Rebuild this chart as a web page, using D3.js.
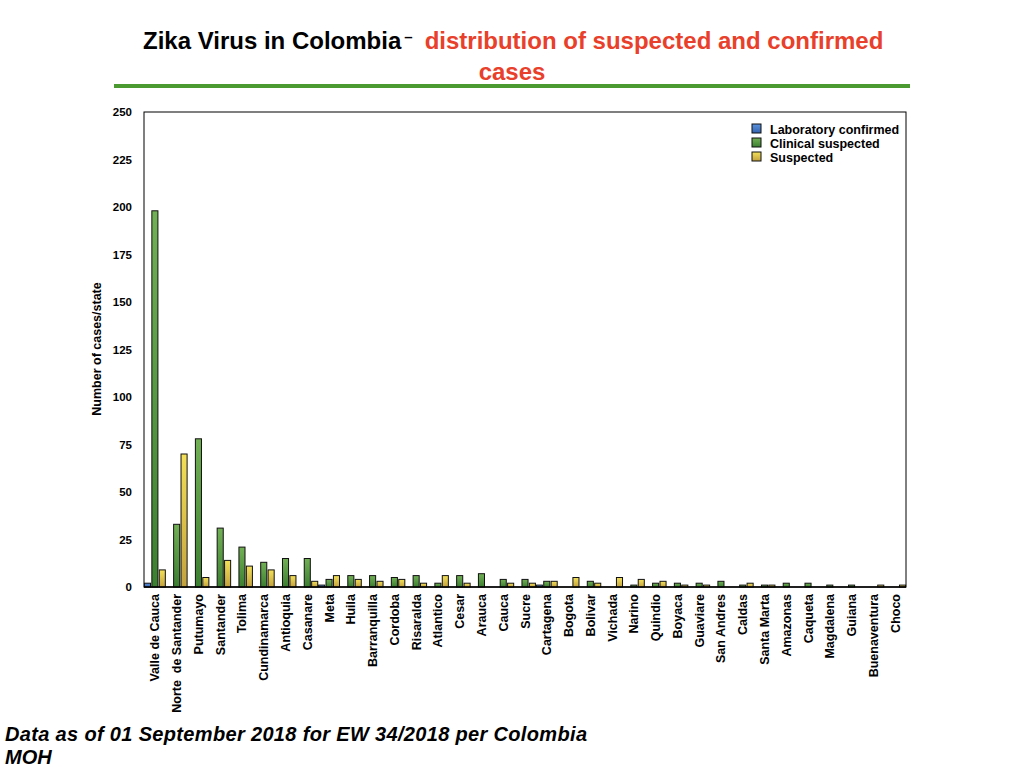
<!DOCTYPE html>
<html>
<head>
<meta charset="utf-8">
<script src="https://cdn.jsdelivr.net/npm/d3@7"></script>
<style>
  body { margin: 0; background: #fff; }
  text { font-family: "Liberation Sans", Arial, sans-serif; }
</style>
</head>
<body>
<svg width="1024" height="768"></svg>
<script>
// states along the x axis
const categories = ['Valle de Cauca', 'Norte  de Santander', 'Putumayo', 'Santander', 'Tolima',
  'Cundinamarca', 'Antioquia', 'Casanare', 'Meta', 'Huila', 'Barranquilla', 'Cordoba',
  'Risaralda', 'Atlantico', 'Cesar', 'Arauca', 'Cauca', 'Sucre', 'Cartagena', 'Bogota',
  'Bolivar', 'Vichada', 'Narino', 'Quindio', 'Boyaca', 'Guaviare', 'San Andres', 'Caldas',
  'Santa Marta', 'Amazonas', 'Caqueta', 'Magdalena', 'Guiana', 'Buenaventura', 'Choco'];

// series values
const labConfirmed = [2,0,0,0,0,0,0,0,1,0,0,0,0,0,0,0,0,0,1,0,0,0,0,0,0,0,0,0,0,0,0,0,0,0,0];
const clinical     = [198,33,78,31,21,13,15,15,4,6,6,5,6,2,6,7,4,4,3,0,3,0,1,2,2,2,3,1,1,2,2,1,1,0,0];
const suspected    = [9,70,5,14,11,9,6,3,6,4,3,4,2,6,2,0,2,2,3,5,2,5,4,3,1,1,0,2,1,0,0,0,0,1,1];

const seriesNames = ['Laboratory confirmed', 'Clinical suspected', 'Suspected'];
const yTicks = [0, 25, 50, 75, 100, 125, 150, 175, 200, 225, 250];

const svg = d3.select('svg');

// gradients for the bars (light top, darker bottom)
const grads = [
  {id: 'gBlue',   top: '#5b93e0', bottom: '#3563b0'},
  {id: 'gGreen',  top: '#72b055', bottom: '#3b7f30'},
  {id: 'gYellow', top: '#f3e058', bottom: '#c3a23e'}
];
const defs = svg.append('defs');
grads.forEach(g => {
  const lg = defs.append('linearGradient').attr('id', g.id)
    .attr('x1', 0).attr('y1', 0).attr('x2', 0).attr('y2', 1);
  lg.append('stop').attr('offset', '0%').attr('stop-color', g.top);
  lg.append('stop').attr('offset', '100%').attr('stop-color', g.bottom);
});

const plotL = 144, plotR = 906, plotT = 112, plotB = 587;

const x = d3.scaleBand().domain(categories).range([plotL, plotR]).paddingInner(0).paddingOuter(0);
const xs = d3.scaleBand().domain(seriesNames).range([0, x.bandwidth()]).paddingInner(0.18).paddingOuter(0.06);
const y = d3.scaleLinear().domain([0, 250]).range([plotB, plotT]);

// title
const title = svg.append('text').attr('x', 143).attr('y', 49)
  .attr('font-size', 24).attr('font-weight', 'bold');
title.append('tspan').attr('fill', '#000').text('Zika Virus in Colombia');
title.append('tspan').attr('fill', '#000').attr('font-size', 15).attr('dx', 3).attr('dy', -7).text('–');
title.append('tspan').attr('fill', '#e8402a').attr('dx', 12).attr('dy', 7).text('distribution of suspected and confirmed');
svg.append('text').attr('x', 512).attr('y', 80).attr('text-anchor', 'middle')
  .attr('font-size', 24).attr('font-weight', 'bold').attr('fill', '#e8402a').text('cases');

svg.append('line').attr('x1', 114).attr('x2', 910).attr('y1', 86).attr('y2', 86)
  .attr('stroke', '#4b9a31').attr('stroke-width', 4);

// plot frame
svg.append('rect').attr('x', plotL).attr('y', plotT)
  .attr('width', plotR - plotL).attr('height', plotB - plotT)
  .attr('fill', 'none').attr('stroke', '#000').attr('stroke-width', 1);

// y axis
const yAxis = svg.append('g').attr('transform', `translate(${plotL},0)`)
  .call(d3.axisLeft(y).tickValues(yTicks).tickSize(0).tickPadding(12));
yAxis.select('.domain').remove();
yAxis.selectAll('text').attr('font-size', 11.5).attr('font-weight', 'bold')
  .attr('font-family', '"Liberation Sans", Arial, sans-serif').attr('fill', '#000');

svg.append('text').attr('transform', 'translate(101,349) rotate(-90)')
  .attr('text-anchor', 'middle').attr('font-size', 12.5).attr('font-weight', 'bold')
  .text('Number of cases/state');

// bars
const rows = categories.map((c, i) => ({c, vals: [labConfirmed[i], clinical[i], suspected[i]]}));
const groups = svg.selectAll('g.grp').data(rows).enter().append('g')
  .attr('class', 'grp').attr('transform', d => `translate(${x(d.c)},0)`);
groups.selectAll('rect')
  .data(d => d.vals.map((v, k) => ({k, v})).filter(e => e.v > 0))
  .enter().append('rect')
  .attr('x', e => xs(seriesNames[e.k]))
  .attr('width', xs.bandwidth())
  .attr('y', e => y(e.v))
  .attr('height', e => y(0) - y(e.v))
  .attr('fill', e => `url(#${grads[e.k].id})`)
  .attr('stroke', '#111').attr('stroke-width', 1);

// x axis baseline
svg.append('line').attr('x1', plotL).attr('x2', plotR).attr('y1', plotB).attr('y2', plotB)
  .attr('stroke', '#000').attr('stroke-width', 1.5);

// x labels
svg.selectAll('text.xl').data(categories).enter().append('text')
  .attr('class', 'xl')
  .attr('transform', d => `translate(${x(d) + x.bandwidth() / 2 + 4.5},594) rotate(-90)`)
  .attr('text-anchor', 'end').attr('font-size', 12.5).attr('font-weight', 'bold')
  .attr('xml:space', 'preserve')
  .text(d => d);

// legend
const legend = svg.append('g').attr('transform', 'translate(752,124)');
seriesNames.forEach((s, k) => {
  legend.append('rect').attr('x', 0).attr('y', k * 14).attr('width', 9).attr('height', 9)
    .attr('fill', `url(#${grads[k].id})`).attr('stroke', '#111').attr('stroke-width', 1);
  legend.append('text').attr('x', 18).attr('y', k * 14 + 9.5)
    .attr('font-size', 12.5).attr('font-weight', 'bold').text(s);
});

// footnote
svg.append('text').attr('x', 5).attr('y', 741).attr('font-size', 20)
  .attr('font-weight', 'bold').attr('font-style', 'italic')
  .attr('textLength', 582).attr('lengthAdjust', 'spacing')
  .text('Data as of 01 September 2018 for EW 34/2018 per Colombia');
svg.append('text').attr('x', 5).attr('y', 764).attr('font-size', 20)
  .attr('font-weight', 'bold').attr('font-style', 'italic').text('MOH');
</script>
</body>
</html>
